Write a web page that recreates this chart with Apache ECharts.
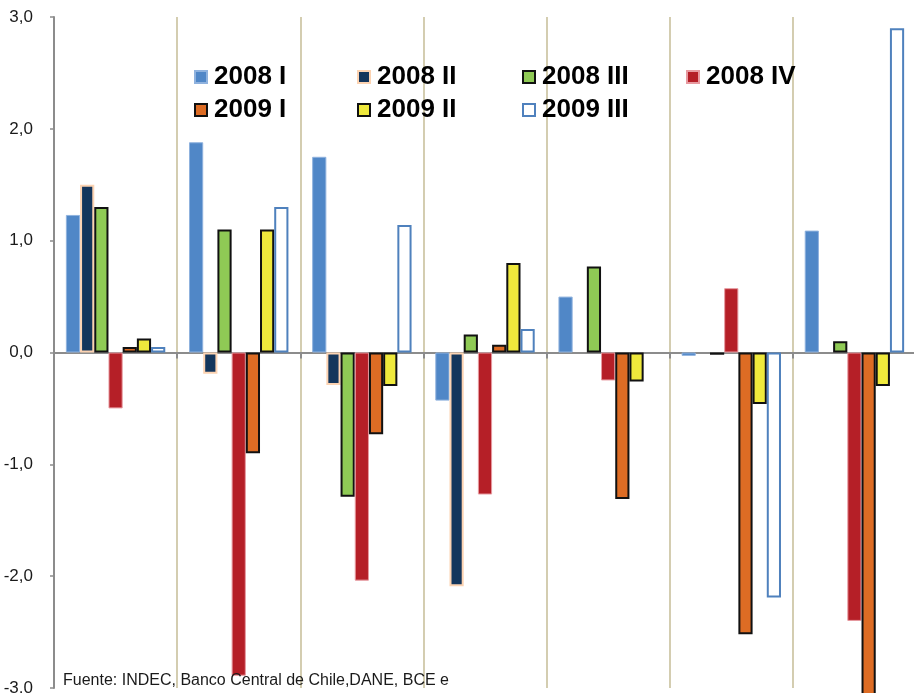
<!DOCTYPE html>
<html>
<head>
<meta charset="utf-8">
<script src="https://cdn.jsdelivr.net/npm/echarts@6/dist/echarts.min.js"></script>
<style>
html,body{margin:0;padding:0;background:#fff;}
#chart{width:914px;height:693px;}
</style>
</head>
<body>
<div id="chart"></div>
<script>
var categories = ['Argentina', 'Brasil', 'Chile', 'Colombia', 'Ecuador', 'México', 'Perú'];
var seriesNames = ['2008 I', '2008 II', '2008 III', '2008 IV', '2009 I', '2009 II', '2009 III'];
var s2008I   = [1.23, 1.88, 1.75, -0.43, 0.50, -0.03, 1.09];
var s2008II  = [1.50, -0.19, -0.29, -2.09, null, null, null];
var s2008III = [1.30, 1.10, -1.29, 0.16, 0.77, -0.02, 0.10];
var s2008IV  = [-0.50, -2.89, -2.04, -1.27, -0.25, 0.575, -2.40];
var s2009I   = [0.05, -0.90, -0.73, 0.07, -1.31, -2.52, -3.10];
var s2009II  = [0.125, 1.10, -0.30, 0.80, -0.26, -0.46, -0.30];
var s2009III = [0.05, 1.30, 1.14, 0.21, null, -2.19, 2.90];
var yTicks = [-3, -2, -1, 0, 1, 2, 3];
var sourceText = 'Fuente: INDEC, Banco Central de Chile,DANE, BCE e';

var allData = [s2008I, s2008II, s2008III, s2008IV, s2009I, s2009II, s2009III];
var styles = [
  {color: '#5087c7', borderColor: '#8fb2de', borderWidth: 1},
  {color: '#14365c', borderColor: '#fcd3b2', borderWidth: 2},
  {color: '#8fca55', borderColor: '#111111', borderWidth: 2},
  {color: '#b51f27', borderColor: '#e79aa0', borderWidth: 1},
  {color: '#dd6c24', borderColor: '#111111', borderWidth: 2},
  {color: '#efe93c', borderColor: '#111111', borderWidth: 2},
  {color: '#ffffff', borderColor: '#4f81bd', borderWidth: 2}
];
var legendPos = [
  [194, 64], [357, 64], [522, 64], [686, 64],
  [194, 97], [357, 97], [522, 97]
];

var series = seriesNames.map(function (n, i) {
  return {
    name: n,
    type: 'bar',
    data: allData[i],
    barWidth: 14.2,
    barGap: '0%',
    clip: false,
    itemStyle: styles[i]
  };
});

var legends = seriesNames.map(function (n, i) {
  return {
    data: [n],
    left: legendPos[i][0],
    top: legendPos[i][1],
    orient: 'horizontal',
    icon: 'rect',
    itemWidth: 12,
    itemHeight: 12,
    padding: 0,
    selectedMode: false,
    textStyle: {
      fontFamily: 'Liberation Sans, Arial, sans-serif',
      fontWeight: 'bold',
      fontSize: 26,
      color: '#000',
      padding: [0, 0, 0, 2]
    }
  };
});

var chart = echarts.init(document.getElementById('chart'), null, {renderer: 'canvas'});
chart.setOption({
  animation: false,
  backgroundColor: '#fff',
  grid: {left: 54, right: -2, top: 17, bottom: 5, containLabel: false, outerBoundsMode: 'none'},
  legend: legends,
  xAxis: {
    type: 'category',
    data: categories,
    axisLine: {show: true, onZero: true, lineStyle: {color: '#8c8c8c', width: 2}},
    axisTick: {show: true, length: 6, interval: 0, lineStyle: {color: '#8c8c8c', width: 2}},
    axisLabel: {show: false},
    splitLine: {show: true, interval: 0, lineStyle: {color: '#c9c19d', width: 1.6}}
  },
  yAxis: {
    type: 'value',
    min: yTicks[0],
    max: yTicks[yTicks.length - 1],
    interval: 1,
    axisLine: {show: true, lineStyle: {color: '#8c8c8c', width: 2}},
    axisTick: {show: true, length: 4, lineStyle: {color: '#8c8c8c', width: 1.5}},
    splitLine: {show: false},
    axisLabel: {
      margin: 21,
      fontFamily: 'Liberation Sans, Arial, sans-serif',
      fontSize: 17,
      color: '#1a1a1a',
      formatter: function (v) { return v.toFixed(1).replace('.', ','); }
    }
  },
  graphic: [{
    type: 'text',
    left: 63,
    top: 673,
    z: 100,
    style: {
      text: sourceText,
      font: '16px "Liberation Sans", Arial, sans-serif',
      fill: '#1a1a1a'
    }
  }],
  series: series
});
</script>
</body>
</html>
